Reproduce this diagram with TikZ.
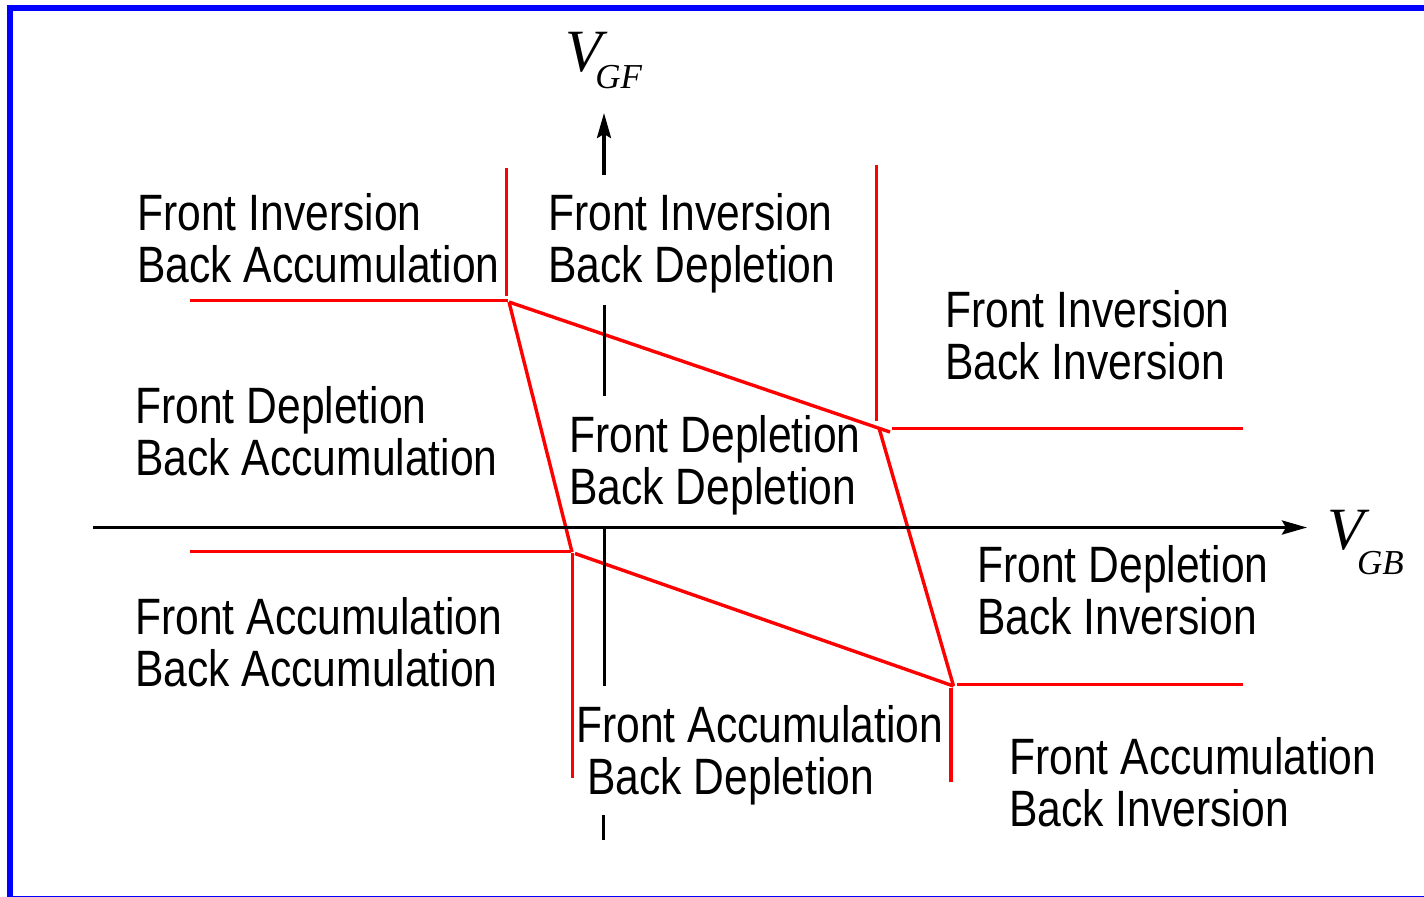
\documentclass[tikz,border=0pt]{standalone}
\usepackage{graphicx}
\usepackage{fontspec}
\setmainfont{Liberation Sans}
\newfontfamily\tmsfont{Liberation Serif}
\usetikzlibrary{arrows.meta}
\newcommand{\twoline}[3][0pt]{\scalebox{1}[1.2]{\vtop{\baselineskip=21.67pt\lineskiplimit=-20pt\hbox{#2}\hbox{\hspace*{#1}#3}}}}
\newcommand{\vlab}[3]{{\tmsfont\itshape\fontsize{30}{30}\selectfont V\kern#2\raisebox{#3}{\fontsize{17.5}{17.5}\selectfont #1}}}
\begin{document}
\begin{tikzpicture}[x=0.5pt,y=-0.5pt,
  redline/.style={draw=red,line width=1.7pt},
  axis/.style={draw=black,line width=1.7pt},
  axisarrow/.style={axis,-{Stealth[length=12.5pt,width=7pt,inset=2pt]}},
  region/.style={anchor=base west,inner sep=0pt,font=\fontsize{21.3}{21.67}\selectfont},
  vlabel/.style={anchor=base west,inner sep=0pt}]
\useasboundingbox (0,0) rectangle (1424,896);
\begin{scope}
  \clip (0,0) rectangle (1424,896);
  \draw[draw=blue,line width=3pt] (10.3,7.9) rectangle (1428,899);
\end{scope}

% key points of the boundaries
\coordinate (tlh1) at (190,300.5);  \coordinate (tlh2) at (508,300.5);
\coordinate (tlv1) at (506.5,168);  \coordinate (tlv2) at (506.5,296);
\coordinate (P) at (509,302);       \coordinate (Q) at (890,432);
\coordinate (T) at (572,552);
\coordinate (trv1) at (876.5,165);  \coordinate (trv2) at (876.5,421);
\coordinate (trh1) at (892,428.5);  \coordinate (trh2) at (1243,428.5);
\coordinate (R) at (879,428);       \coordinate (S) at (953.5,686);
\coordinate (blh1) at (190,551.5);  \coordinate (blh2) at (571,551.5);
\coordinate (blv1) at (572.5,553);  \coordinate (blv2) at (572.5,778);
\coordinate (U) at (575,553.5);
\coordinate (brh1) at (957,684.5);  \coordinate (brh2) at (1243,684.5);
\coordinate (brv1) at (951,688);    \coordinate (brv2) at (951,782);

\draw[redline] (tlh1) -- (tlh2);
\draw[redline] (tlv1) -- (tlv2);
\draw[redline] (P) -- (Q);
\draw[redline] (P) -- (T);
\draw[redline] (trv1) -- (trv2);
\draw[redline] (trh1) -- (trh2);
\draw[redline] (R) -- (S);
\draw[redline] (blh1) -- (blh2);
\draw[redline] (blv1) -- (blv2);
\draw[redline] (U) -- (S);
\draw[redline] (brh1) -- (brh2);
\draw[redline] (brv1) -- (brv2);

% axes
\coordinate (hx0) at (93,527.5);   \coordinate (hx1) at (1307,527.5);
\coordinate (vy0) at (604,175);    \coordinate (vy1) at (604,113);
\coordinate (va1) at (604.5,305);  \coordinate (va2) at (604.5,396);
\coordinate (vb1) at (604.5,527);  \coordinate (vb2) at (604.5,686);
\coordinate (vc1) at (603.5,815);  \coordinate (vc2) at (603.5,840);
\draw[axisarrow] (hx0) -- (hx1);
\draw[axisarrow] (vy0) -- (vy1);
\draw[axis] (va1) -- (va2);
\draw[axis] (vb1) -- (vb2);
\draw[axis] (vc1) -- (vc2);

% axis labels
\node[vlabel] (vgf) at (565,71) {\vlab{GF}{-3.3pt}{-8.5pt}};
\node[vlabel] (vgb) at (1327,549) {\vlab{GB}{-3.5pt}{-12.7pt}};

% region labels
\node[region] (r1) at (137,230) {\twoline{Front Inversion}{Back Accumulation}};
\node[region] (r2) at (548,230) {\twoline{Front Inversion}{Back Depletion}};
\node[region] (r3) at (945,327) {\twoline{Front Inversion}{Back Inversion}};
\node[region] (r4) at (135,423) {\twoline{Front Depletion}{Back Accumulation}};
\node[region] (r5) at (569,452) {\twoline{Front Depletion}{Back Depletion}};
\node[region] (r6) at (977,582) {\twoline{Front Depletion}{Back Inversion}};
\node[region] (r7) at (135,634) {\twoline{Front Accumulation}{Back Accumulation}};
\node[region] (r8) at (576,742) {\twoline[5.5pt]{Front Accumulation}{Back Depletion}};
\node[region] (r9) at (1009,774) {\twoline{Front Accumulation}{Back Inversion}};
\end{tikzpicture}
\end{document}
